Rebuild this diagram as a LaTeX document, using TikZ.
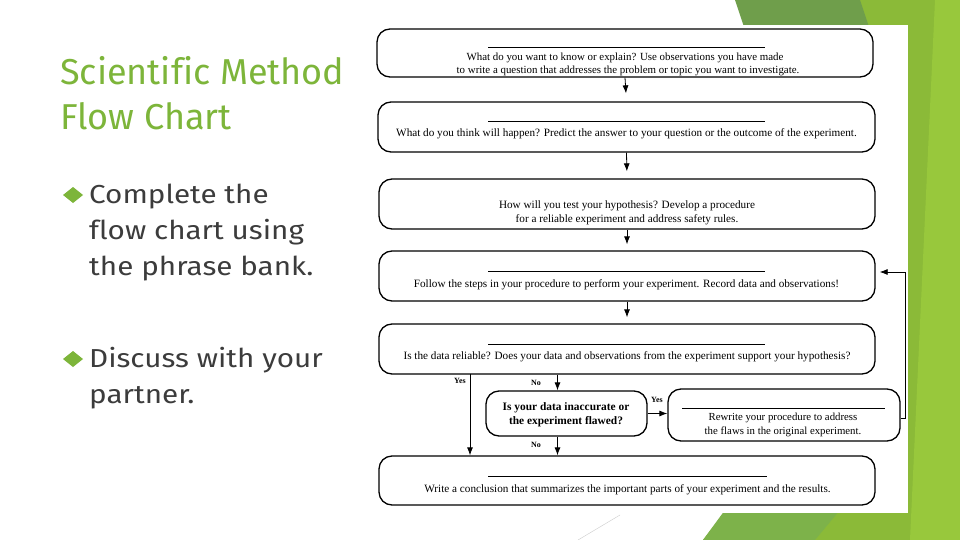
\documentclass[tikz,border=0pt]{standalone}
\usepackage{fontspec}
\setmainfont{Liberation Serif}
\newfontfamily\titlefont[Ligatures=NoCommon]{Fira Sans}
\newfontfamily\bodyfont[Ligatures=NoCommon,FakeStretch=1.14]{Fira Sans}
\usetikzlibrary{arrows.meta,calc}
\definecolor{gA}{HTML}{8BBA38}
\definecolor{gDark}{HTML}{6F9E4B}
\definecolor{gLight}{HTML}{98C83C}
\definecolor{gBot}{HTML}{7DB24A}
\definecolor{titlegreen}{HTML}{7DB53A}
\definecolor{bodygray}{HTML}{3C3C3C}
\tikzset{
  fbox/.style={draw=black, line width=1.3pt, rounded corners=13pt, fill=white, inner sep=0pt},
  ftext/.style={font=\fontsize{11.2}{13.5}\selectfont, align=center, inner sep=0pt},
  blank/.style={line width=0.7pt},
  flow/.style={line width=0.8pt, -{Latex[length=8pt,width=6pt]}},
  lab/.style={font=\fontsize{8}{9}\selectfont\bfseries, inner sep=0pt},
  bullet/.style={fill=titlegreen, draw=none},
  titleline/.style={font=\titlefont\fontsize{36}{45}\selectfont, text=titlegreen, anchor=base west, inner sep=0pt},
  bodyline/.style={font=\bodyfont\fontsize{26}{36}\selectfont, text=bodygray, anchor=base west, inner sep=0pt},
}
\begin{document}
\begin{tikzpicture}[x=1pt,y=-1pt]
\useasboundingbox (0,0) rectangle (960,540);
\fill[white] (0,0) rectangle (960,540);
% green background shapes
\fill[gA] (735,0) -- (960,0) -- (960,540) -- (703,540) -- (730,505) -- (760,30) -- cycle;
\fill[gDark] (735,0) -- (860,0) -- (870,30) -- (745,30) -- cycle;
\fill[gLight] (935,0) -- (960,0) -- (960,540) -- (910,540) -- cycle;
\fill[gBot] (703,540) -- (725,510) -- (840,510) -- (815,540) -- cycle;
\draw[gray!40, line width=0.4pt] (620,515) -- (578,540);
% white picture
\fill[white] (371,25) rectangle (908,513);
% boxes
\node[fbox, minimum width=496pt, minimum height=48pt] (b1) at (625,53) {};
\node[fbox, minimum width=497pt, minimum height=50pt] (b2) at (626.5,127) {};
\node[fbox, minimum width=496pt, minimum height=50pt] (b3) at (627,204) {};
\node[fbox, minimum width=496pt, minimum height=50pt] (b4) at (627,276) {};
\node[fbox, minimum width=496pt, minimum height=50pt] (b5) at (627,349) {};
\node[fbox, minimum width=161pt, minimum height=45pt] (dec) at (566.5,413.5) {};
\node[fbox, minimum width=232pt, minimum height=52pt] (rw) at (784,415) {};
\node[fbox, minimum width=496pt, minimum height=49pt] (b8) at (627,480.5) {};
% blanks
\draw[blank] (488,47.5) -- (765,47.5);
\draw[blank] (488,121) -- (765,121);
\draw[blank] (488,271) -- (765,271);
\draw[blank] (488,344) -- (765,344);
\draw[blank] (488,476) -- (767,476);
\draw[blank] (682,408) -- (885,408);
% texts
\node[ftext, font=\fontsize{10.9}{13}\selectfont] (t1a) at (625,58) {What do you want to know or explain? Use observations you have made};
\node[ftext, font=\fontsize{10.9}{13}\selectfont] (t1b) at (628,71) {to write a question that addresses the problem or topic you want to investigate.};
\node[ftext] (t2) at (626.5,134) {What do you think will happen? Predict the answer to your question or the outcome of the experiment.};
\node[ftext] (t3) at (627,213) {How will you test your hypothesis? Develop a procedure\\for a reliable experiment and address safety rules.};
\node[ftext] (t4) at (626.5,285) {Follow the steps in your procedure to perform your experiment. Record data and observations!};
\node[ftext] (t5) at (627,357) {Is the data reliable? Does your data and observations from the experiment support your hypothesis?};
\node[ftext, font=\fontsize{11.4}{14}\selectfont\bfseries] (td) at (566,415) {Is your data inaccurate or\\the experiment flawed?};
\node[ftext, font=\fontsize{10.8}{14}\selectfont] (trw) at (783,425) {Rewrite your procedure to address\\the flaws in the original experiment.};
\node[ftext] (t8) at (627.5,490) {Write a conclusion that summarizes the important parts of your experiment and the results.};
% connectors
\draw[flow, shorten >=8pt] (b1.south) -- (b2.north);
\draw[flow, shorten >=7pt] (b2.south) -- (b3.north);
\draw[flow, shorten >=6pt] (b3.south) -- (b4.north);
\draw[flow, shorten >=6pt] (b4.south) -- (b5.north);
\draw[flow] (b5.south -| dec.north) ++(-9,0) coordinate (n1) -- (n1 |- dec.north);
\coordinate (y1) at (470,374);
\draw[flow] (y1) -- (y1 |- b8.north);
\draw[flow] ($(dec.south)+(-9,0)$) coordinate (n2) -- (n2 |- b8.north);
\draw[flow] (dec.east) -- (dec.east -| rw.west);
\coordinate (r1) at (905,418);
\coordinate (r2) at (905,272);
\draw[line width=0.8pt] (rw.east |- r1) -- (r1) -- (r2);
\draw[flow, shorten >=4pt] (r2) -- (r2 -| b4.east);
% labels
\node[lab] (ly1) at (460,381) {Yes};
\node[lab] (ln1) at (536,383) {No};
\node[lab] (ly2) at (657,400) {Yes};
\node[lab] (ln2) at (536,444.5) {No};
% left text
\node[titleline] (ti1) at (60,85) {Scientific Method};
\node[titleline] (ti2) at (60,130) {Flow Chart};
\node[bodyline] (p1a) at (89,203) {Complete the};
\node[bodyline] (p1b) at (89,239) {flow chart using};
\node[bodyline] (p1c) at (89,275) {the phrase bank.};
\node[bodyline] (p2a) at (89,367) {Discuss with your};
\node[bodyline] (p2b) at (89,403) {partner.};
\fill[bullet] (63,195) -- (73,187) -- (83,195) -- (73,203) -- cycle;
\fill[bullet] (63,359) -- (73,351) -- (83,359) -- (73,367) -- cycle;
\end{tikzpicture}
\end{document}
